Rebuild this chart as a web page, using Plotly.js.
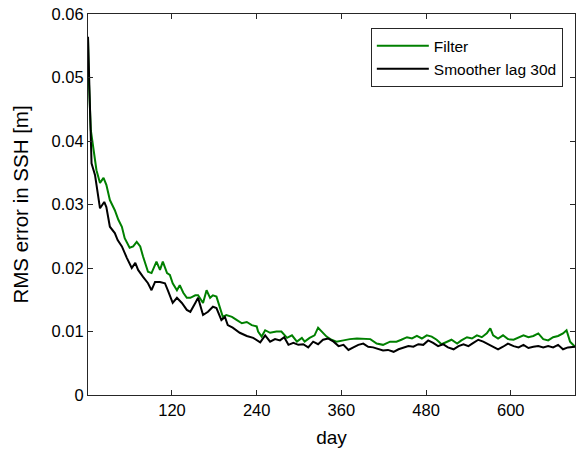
<!DOCTYPE html>
<html>
<head>
<meta charset="utf-8">
<script src="https://cdn.plot.ly/plotly-3.0.1.min.js"></script>
<style>html,body{margin:0;padding:0;background:#fff;}#chart{width:576px;height:452px;}</style>
</head>
<body>
<div id="chart"></div>
<script>
const filterDays = [1,2,5,9,13,18,23,27,32,39,44,49,53,60,65,70,75,79,86,91,98,103,107,113,117,121,127,131,136,141,146,153,157,164,169,174,178,183,188,192,197,205,212,219,226,233,240,242,247,252,259,268,275,283,290,297,304,308,315,322,327,332,339,346,353,363,372,382,391,401,410,419,429,438,445,453,460,467,474,481,488,495,502,509,516,524,530,538,545,552,559,566,571,575,582,589,596,604,611,618,625,632,639,646,653,660,667,674,679,684,691];
const filterRMS = [0.0562,0.0501,0.0417,0.0381,0.0354,0.0334,0.0342,0.0331,0.0307,0.0291,0.0276,0.0265,0.0247,0.0232,0.0234,0.0241,0.0234,0.0218,0.0194,0.0192,0.0210,0.0197,0.0210,0.0192,0.0189,0.0176,0.0165,0.0173,0.0161,0.0153,0.0153,0.0157,0.0157,0.0145,0.0165,0.0153,0.0157,0.0155,0.0139,0.0123,0.0126,0.0123,0.0118,0.0113,0.0115,0.0110,0.0108,0.0100,0.0092,0.0102,0.0098,0.0100,0.0100,0.0090,0.0094,0.0084,0.0090,0.0084,0.0090,0.0094,0.0106,0.0100,0.0092,0.0087,0.0084,0.0086,0.0088,0.0089,0.0089,0.0088,0.0081,0.0079,0.0084,0.0084,0.0087,0.0091,0.0089,0.0093,0.0089,0.0094,0.0092,0.0087,0.0080,0.0084,0.0087,0.0081,0.0086,0.0091,0.0089,0.0094,0.0091,0.0097,0.0105,0.0094,0.0089,0.0094,0.0088,0.0087,0.0091,0.0094,0.0091,0.0093,0.0097,0.0088,0.0086,0.0091,0.0093,0.0097,0.0102,0.0084,0.0076];

const smootherDays = [1,4,6,11,16,18,24,27,32,39,43,49,56,63,68,72,79,86,91,96,103,110,114,121,127,134,141,146,153,157,164,171,178,183,190,195,199,206,216,226,235,245,252,259,266,273,279,285,292,299,306,313,320,327,334,341,349,356,363,370,377,384,391,398,405,412,419,426,434,441,448,455,462,469,476,483,490,497,504,511,519,526,533,540,547,554,561,568,575,582,589,596,604,611,618,625,632,639,646,653,660,667,674,681,691];
const smootherRMS = [0.0564,0.0422,0.0365,0.0346,0.0307,0.0294,0.0304,0.0296,0.0265,0.0255,0.0244,0.0234,0.0216,0.0200,0.0208,0.0197,0.0186,0.0176,0.0165,0.0178,0.0178,0.0176,0.0165,0.0145,0.0153,0.0145,0.0134,0.0131,0.0145,0.0153,0.0126,0.0131,0.0139,0.0137,0.0118,0.0123,0.0110,0.0106,0.0098,0.0093,0.0090,0.0083,0.0094,0.0084,0.0088,0.0086,0.0091,0.0079,0.0082,0.0079,0.0080,0.0075,0.0084,0.0080,0.0087,0.0089,0.0084,0.0077,0.0079,0.0071,0.0075,0.0079,0.0081,0.0076,0.0075,0.0072,0.0070,0.0071,0.0068,0.0072,0.0075,0.0077,0.0076,0.0080,0.0079,0.0086,0.0082,0.0077,0.0080,0.0075,0.0072,0.0077,0.0080,0.0077,0.0082,0.0087,0.0084,0.0080,0.0075,0.0072,0.0076,0.0081,0.0077,0.0075,0.0079,0.0074,0.0076,0.0077,0.0075,0.0077,0.0075,0.0079,0.0072,0.0075,0.0076];

const seriesNames = ["Filter", "Smoother lag 30d"];
const xTickVals = [120, 240, 360, 480, 600];
const yTickVals = [0, 0.01, 0.02, 0.03, 0.04, 0.05, 0.06];
const yTickText = ["0", "0.01", "0.02", "0.03", "0.04", "0.05", "0.06"];

const FONT = "Liberation Sans, Arial, sans-serif";

const traces = [
  {x: filterDays, y: filterRMS, name: seriesNames[0], type: "scatter", mode: "lines",
   line: {color: "#008000", width: 2}},
  {x: smootherDays, y: smootherRMS, name: seriesNames[1], type: "scatter", mode: "lines",
   line: {color: "#000000", width: 2}}
];

const axisCommon = {
  showline: true, mirror: "ticks", linecolor: "#262626", linewidth: 1,
  ticks: "inside", ticklen: 5, tickwidth: 1, tickcolor: "#262626",
  showgrid: false, zeroline: false,
  tickfont: {family: FONT, size: 16.5, color: "#000"}
};

const layout = {
  width: 576, height: 452,
  margin: {l: 88, r: 1, t: 14, b: 57},
  paper_bgcolor: "#fff", plot_bgcolor: "#fff",
  font: {family: FONT, color: "#000"},
  showlegend: true,
  legend: {
    x: 0.975, xanchor: "right", y: 0.963, yanchor: "top",
    bordercolor: "#262626", borderwidth: 1, bgcolor: "#fff",
    font: {family: FONT, size: 15.5, color: "#000"},
    tracegroupgap: 0, itemwidth: 52
  },
  xaxis: Object.assign({}, axisCommon, {
    range: [1, 691], tickvals: xTickVals,
    title: {text: "day", font: {size: 19, family: FONT}, standoff: 12}
  }),
  yaxis: Object.assign({}, axisCommon, {
    range: [0, 0.06], tickvals: yTickVals, ticktext: yTickText,
    title: {text: "RMS error in SSH [m]", font: {size: 20.5, family: FONT}, standoff: 17}
  })
};

Plotly.newPlot("chart", traces, layout, {staticPlot: true, displayModeBar: false});
</script>
</body>
</html>
